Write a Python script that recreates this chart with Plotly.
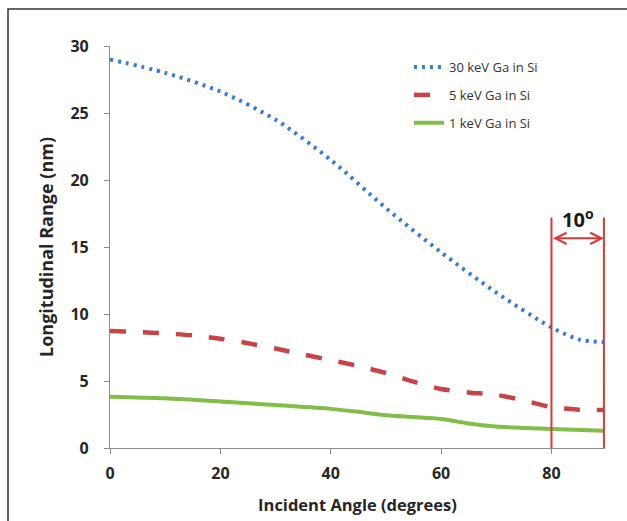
import plotly.graph_objects as go

# Data
angle_30 = [0, 10, 20, 30, 40, 50, 60, 70, 80, 85, 89.5]
range_30 = [29.0, 28.0, 26.6, 24.5, 21.5, 17.9, 14.6, 11.6, 9.0, 8.1, 7.9]

angle_5 = [0, 5, 10, 15, 20, 25, 30, 35, 40, 45, 50, 55, 60, 65, 70, 75, 80, 85, 89.5]
range_5 = [8.73, 8.66, 8.55, 8.4, 8.15, 7.82, 7.42, 6.99, 6.55, 6.12, 5.6, 4.95,
           4.4, 4.15, 3.96, 3.55, 3.05, 2.86, 2.84]

angle_1 = [0, 10, 20, 30, 40, 45, 50, 55, 60, 65, 70, 75, 80, 89.5]
range_1 = [3.83, 3.71, 3.47, 3.2, 2.92, 2.7, 2.44, 2.31, 2.17, 1.83, 1.61, 1.5, 1.42, 1.29]

series_names = ["30 keV Ga in Si", "5 keV Ga in Si", "1 keV Ga in Si"]
x_ticks = [0, 20, 40, 60, 80]
y_ticks = [0, 5, 10, 15, 20, 25, 30]

bracket_x = [80, 89.5]
bracket_top = 17.2
arrow_y = 15.65
bracket_label = "10<sup>o</sup>"

FONT = "Open Sans"
RED = "#D23B3B"
TXT = "#262626"

fig = go.Figure()
fig.add_trace(go.Scatter(x=angle_30, y=range_30, name=series_names[0], mode="lines",
                         line=dict(color="#3A7BCB", width=4, dash="3px,5px", shape="spline", smoothing=0.8),
                         legendgroup="a"))
fig.add_trace(go.Scatter(x=angle_5, y=range_5, name=series_names[1], mode="lines",
                         line=dict(color="#C84346", width=4.5, dash="16px,17px", shape="spline", smoothing=0.8),
                         legendgroup="b"))
fig.add_trace(go.Scatter(x=angle_1, y=range_1, name=series_names[2], mode="lines",
                         line=dict(color="#82BD4A", width=4, shape="spline", smoothing=0.8),
                         legendgroup="c"))

# red bracket lines
for bx in bracket_x:
    fig.add_shape(type="line", xref="x", yref="y", x0=bx, x1=bx, y0=0, y1=bracket_top,
                  line=dict(color=RED, width=2))
# double arrow
fig.add_annotation(x=bracket_x[1], y=arrow_y, ax=bracket_x[0], ay=arrow_y,
                   xref="x", yref="y", axref="x", ayref="y", text="",
                   showarrow=True, arrowside="end+start", arrowhead=5, arrowsize=1.1,
                   arrowwidth=2, arrowcolor=RED, standoff=0, startstandoff=0)
fig.add_annotation(x=(bracket_x[0] + bracket_x[1]) / 2, y=bracket_top - 0.05, xref="x", yref="y",
                   text="<b>" + bracket_label + "</b>", showarrow=False, yanchor="middle",
                   font=dict(family=FONT, size=20, color="#1a1a1a"))

# outer frame (partially visible in reference)
fig.add_shape(type="rect", xref="paper", yref="paper",
              x0=(8 - 110) / 495, x1=1.2, y0=-0.4, y1=(448 - 9) / 402,
              line=dict(color="#333333", width=1.5))

fig.update_layout(
    width=627, height=521,
    margin=dict(l=110, r=22, t=46, b=73),
    paper_bgcolor="white", plot_bgcolor="white",
    showlegend=True,
    legend=dict(x=0.604, y=0.985, xanchor="left", yanchor="top",
                font=dict(family=FONT, size=13, color="#333333"),
                tracegroupgap=8, bgcolor="rgba(0,0,0,0)"),
    xaxis=dict(range=[0, 89.7], tickvals=x_ticks, showgrid=False, zeroline=False,
               showline=True, linecolor="#8c8c8c", linewidth=1.2, automargin=False,
               ticks="outside", ticklen=5, tickcolor="#8c8c8c", ticklabelstandoff=6,
               tickfont=dict(family=FONT, size=16, color=TXT, weight="bold"),
               title=dict(text="Incident Angle (degrees)",
                          font=dict(family=FONT, size=16.5, color=TXT, weight="bold"),
                          standoff=16)),
    yaxis=dict(range=[0, 30], tickvals=y_ticks, showgrid=False, zeroline=False,
               showline=True, linecolor="#8c8c8c", linewidth=1.2, automargin=False,
               ticks="outside", ticklen=5, tickcolor="#8c8c8c", ticklabelstandoff=12,
               tickfont=dict(family=FONT, size=16, color=TXT, weight="bold"),
               title=dict(text="Longitudinal Range (nm)",
                          font=dict(family=FONT, size=18, color=TXT, weight="bold"),
                          standoff=12)),
)

fig.write_html("out.html")
